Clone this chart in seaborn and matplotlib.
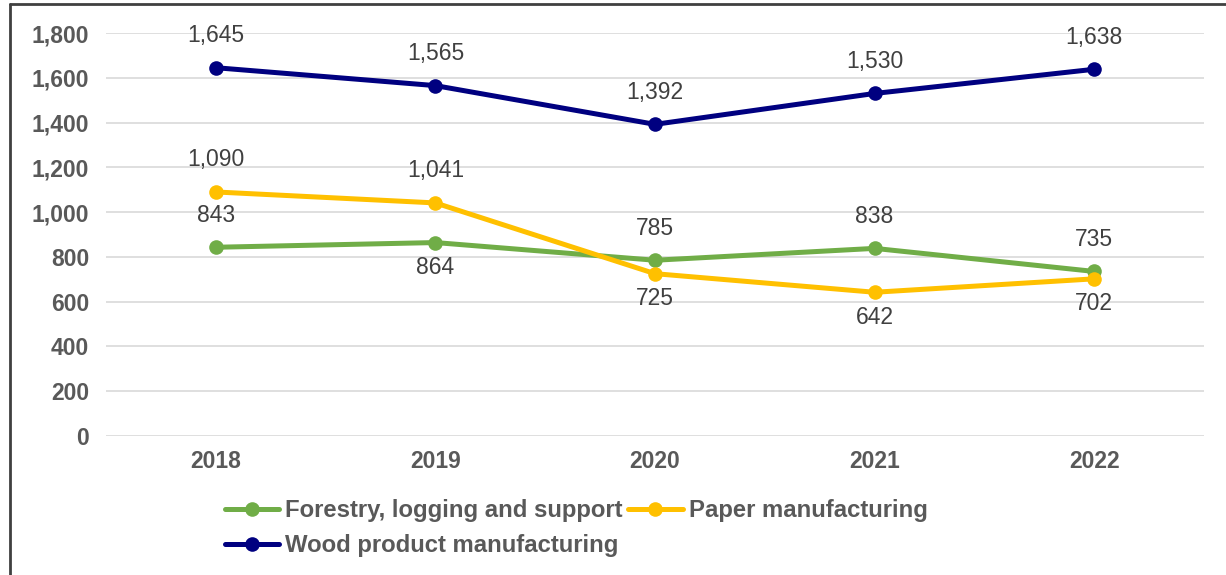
import matplotlib
matplotlib.use("Agg")
import matplotlib.pyplot as plt
import seaborn as sns
import pandas as pd
from matplotlib.lines import Line2D

years = ["2018", "2019", "2020", "2021", "2022"]
series_names = ["Forestry, logging and support", "Paper manufacturing", "Wood product manufacturing"]
forestry = [843, 864, 785, 838, 735]
paper = [1090, 1041, 725, 642, 702]
wood = [1645, 1565, 1392, 1530, 1638]
yticks = [0, 200, 400, 600, 800, 1000, 1200, 1400, 1600, 1800]

# label placement: 1 above, -1 below
forestry_pos = [1, -1, 1, 1, 1]
paper_pos = [1, 1, -1, -1, -1]
wood_pos = [1, 1, 1, 1, 1]

colors = {"Forestry, logging and support": "#70AD47",
          "Paper manufacturing": "#FFC000",
          "Wood product manufacturing": "#000080"}

rows = []
for name, vals in zip(series_names, [forestry, paper, wood]):
    for i, v in enumerate(vals):
        rows.append({"series": name, "idx": i, "value": v})
df = pd.DataFrame(rows)

sns.set_theme(style="white")
plt.rcParams['font.family'] = ['Liberation Sans', 'DejaVu Sans']

fig = plt.figure(figsize=(12.26, 5.75), dpi=100)
ax = fig.add_axes([106/1226, 139/575, (1204-106)/1226, (436-33)/575])

sns.lineplot(data=df, x="idx", y="value", hue="series", palette=colors,
             hue_order=series_names, marker="o", markersize=10.5,
             markeredgewidth=0, linewidth=3.6, ax=ax, legend=False, zorder=3)

ax.set_xlim(-0.5, len(years) - 0.5)
ax.set_ylim(0, 1800)
ax.set_yticks(yticks)
ax.set_yticklabels([f"{t:,}" for t in yticks])
ax.set_xticks(range(len(years)))
ax.set_xticklabels(years)
ax.set_xlabel("")
ax.set_ylabel("")
ax.grid(axis="y", color="#D9D9D9", linewidth=1.2)
ax.grid(axis="x", visible=False)
for s in ax.spines.values():
    s.set_visible(False)
ax.tick_params(axis="both", length=0, labelsize=16.5, labelcolor="#595959")
ax.tick_params(axis="y", pad=12)
ax.tick_params(axis="x", pad=10)
for lbl in ax.get_xticklabels() + ax.get_yticklabels():
    lbl.set_fontweight("bold")

for vals, pos in zip([forestry, paper, wood], [forestry_pos, paper_pos, wood_pos]):
    for i, (v, p) in enumerate(zip(vals, pos)):
        off = 32 if p > 0 else -25
        ax.annotate(f"{v:,}", (i, v), textcoords="offset pixels", xytext=(0, off),
                    ha="center", va="center", fontsize=16.5, color="#404040", zorder=4)

# row-wise legend order: Forestry, Paper / Wood
order = [0, 2, 1]
handles = [Line2D([0], [0], color=colors[series_names[k]], lw=3.6, marker="o",
                  markersize=10.5, markeredgewidth=0) for k in order]
labels = [series_names[k] for k in order]
leg = fig.legend(handles, labels, loc="upper left", ncol=2,
                 bbox_to_anchor=(203/1226, 1 - 478/575), frameon=False,
                 handlelength=2.3, handletextpad=0.25, columnspacing=0.2,
                 labelspacing=0.5, prop={"size": 17.2, "weight": "bold"})
for t in leg.get_texts():
    t.set_color("#595959")

# outer frame (left and top edges visible)
fig.add_artist(Line2D([10/1226, 10/1226], [0, 1 - 4/575], transform=fig.transFigure,
                      color="#404040", lw=2))
fig.add_artist(Line2D([10/1226, 1], [1 - 4/575, 1 - 4/575], transform=fig.transFigure,
                      color="#404040", lw=2))

fig.savefig("out.png", dpi=100)
